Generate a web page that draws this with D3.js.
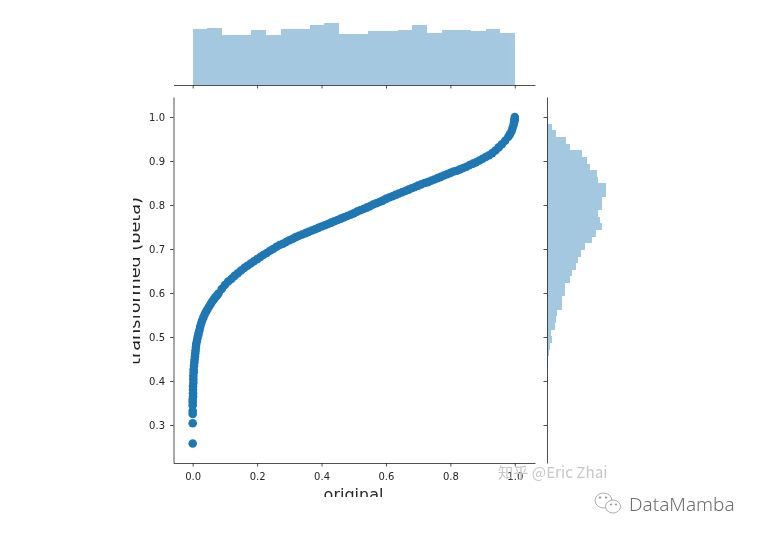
<!DOCTYPE html>
<html><head><meta charset="utf-8">
<script src="https://cdn.jsdelivr.net/npm/d3@7"></script>
<style>
html,body{margin:0;padding:0;background:#fff;}
svg{display:block;filter:blur(0.45px);}
text{font-family:"DejaVu Sans",sans-serif;}
</style></head><body>
<svg id="c" width="761" height="535"></svg>
<script>
const original=[0,0,0,0,0,0,0,0.001,0.001,0.001,0.001,0.002,0.002,0.002,0.003,0.003,0.004,0.005,0.006,0.007,0.008,0.009,0.010,0.011,0.013,0.015,0.017,0.019,0.021,0.023,0.026,0.029,0.033,0.037,0.041,0.045,0.050,0.055,0.060,0.065,0.070,0.075,
0.08,0.09,0.10,0.11,0.12,0.13,0.14,0.15,0.16,0.17,0.18,0.19,0.20,0.21,0.22,0.23,0.24,0.25,0.26,0.27,0.28,0.29,0.30,0.31,0.32,0.33,0.34,0.35,0.36,0.37,0.38,0.39,0.40,0.41,0.42,0.43,0.44,0.45,0.46,0.47,0.48,0.49,0.50,0.51,0.52,0.53,0.54,0.55,0.56,0.57,0.58,0.59,0.60,0.61,0.62,0.63,0.64,0.65,0.66,0.67,0.68,0.69,0.70,0.71,0.72,0.73,0.74,0.75,0.76,0.77,0.78,0.79,0.80,0.81,0.82,0.83,0.84,0.85,0.86,0.87,0.88,0.89,0.90,0.91,0.92,0.93,0.94,0.95,0.96,0.97,0.98,0.985,0.99,0.993,0.996,0.998,0.999,1.0,1.0];
const transformed=[0.258,0.304,0.325,0.332,0.345,0.352,0.358,0.365,0.372,0.380,0.388,0.396,0.404,0.412,0.420,0.426,0.434,0.442,0.449,0.456,0.463,0.470,0.477,0.484,0.491,0.498,0.504,0.510,0.516,0.523,0.530,0.537,0.544,0.551,0.557,0.562,0.568,0.574,0.580,0.585,0.590,0.594,
0.599,0.609,0.618,0.626,0.632,0.639,0.645,0.651,0.657,0.662,0.667,0.672,0.677,0.682,0.687,0.691,0.696,0.700,0.705,0.709,0.712,0.716,0.720,0.723,0.727,0.730,0.733,0.736,0.739,0.742,0.745,0.748,0.751,0.754,0.757,0.760,0.763,0.766,0.769,0.772,0.775,0.778,0.781,0.785,0.788,0.791,0.794,0.797,0.801,0.804,0.807,0.810,0.814,0.817,0.820,0.823,0.826,0.829,0.832,0.835,0.838,0.841,0.844,0.847,0.850,0.852,0.855,0.858,0.861,0.864,0.867,0.870,0.873,0.876,0.878,0.881,0.884,0.887,0.891,0.894,0.897,0.901,0.905,0.909,0.913,0.918,0.924,0.931,0.938,0.946,0.955,0.961,0.968,0.975,0.982,0.988,0.993,0.996,1.0];
const topCounts=[47,48,42,42,46,42,47,47,50,52,43,43,45,45,46,50,44,46,46,45,47,44];
const topRange=[0,1];
const rightCounts=[1,5,9,18,22,34,38,41,48,49,57,57,53,53,49,51,53,47,43,37,33,30,28,24,22,17,17,14,14,10,9,8,4,5,3,2,1,1,0,1,0,0,0,0,0,0,0,0,0];
const rightRange=[1.0,0.26];
const xTicks=[0,0.2,0.4,0.6,0.8,1.0];
const yTicks=[0.3,0.4,0.5,0.6,0.7,0.8,0.9,1.0];
const xLabel="original", yLabel="transformed (beta)";
const watermarkA="知乎 @Eric Zhai", watermarkB="DataMamba";

const C="#1f77b4", INK="#262626";
const svg=d3.select("#c");
const L=173.5,R=535,T=97,B=463,topBase=85,rightBase=547;
const x=d3.scaleLinear().domain([-0.0596,1.0627]).range([L,R]);
const y=d3.scaleLinear().domain([0.2136,1.0455]).range([B,T]);
const topY=d3.scaleLinear().domain([0,54.6]).range([topBase,20]);
const rightX=d3.scaleLinear().domain([0,62.5]).range([rightBase,612]);

// top marginal: opaque bars in a translucent group, so neighbouring bars show no seam
const tw=(topRange[1]-topRange[0])/topCounts.length;
svg.append("g").attr("opacity",0.4).selectAll("rect").data(topCounts).join("rect")
  .attr("shape-rendering","crispEdges")
  .attr("x",(d,i)=>x(topRange[0]+i*tw)).attr("width",x(tw)-x(0))
  .attr("y",d=>topY(d)).attr("height",d=>topBase-topY(d))
  .attr("fill",C);
// right marginal
const rh=(rightRange[0]-rightRange[1])/rightCounts.length;
svg.append("g").attr("opacity",0.4).selectAll("rect").data(rightCounts).join("rect")
  .attr("shape-rendering","crispEdges")
  .attr("y",(d,i)=>y(rightRange[0]-i*rh)).attr("height",y(0)-y(rh))
  .attr("x",rightBase).attr("width",d=>rightX(d)-rightBase)
  .attr("fill",C);

function style(g){
  g.selectAll("path,line").attr("stroke",INK).attr("stroke-opacity",0.8);
  g.selectAll("text").attr("fill",INK).attr("font-size",10).style("font-family",'"DejaVu Sans",sans-serif');
}
// top marginal axis
const xTop=svg.append("g").attr("transform",`translate(0,${topBase})`)
  .call(d3.axisBottom(x).tickValues(xTicks).tickSize(3.5).tickSizeOuter(0).tickFormat(""));
style(xTop);
// right marginal axis
const yRight=svg.append("g").attr("transform",`translate(${rightBase},0)`)
  .call(d3.axisLeft(y).tickValues(yTicks).tickSize(3.5).tickSizeOuter(0).tickFormat(""));
style(yRight);

// main scatter
svg.append("g").selectAll("circle").data(original).join("circle")
  .attr("cx",d=>x(d)).attr("cy",(d,i)=>y(transformed[i])).attr("r",4.3).attr("fill",C);

// main axes
const xAx=svg.append("g").attr("transform",`translate(0,${B})`)
  .call(d3.axisBottom(x).tickValues(xTicks).tickSize(3.5).tickPadding(6).tickSizeOuter(0).tickFormat(d3.format(".1f")));
style(xAx);
const yAx=svg.append("g").attr("transform",`translate(${L},0)`)
  .call(d3.axisLeft(y).tickValues(yTicks).tickSize(3.5).tickPadding(5).tickSizeOuter(0).tickFormat(d3.format(".1f")));
style(yAx);

// clipped axis titles (the reference cuts them off)
const defs=svg.append("defs");
defs.append("clipPath").attr("id","cx").append("rect").attr("x",300).attr("y",470).attr("width",120).attr("height",27);
defs.append("clipPath").attr("id","cy").append("rect").attr("x",133).attr("y",180).attr("width",30).attr("height",200);
svg.append("g").attr("clip-path","url(#cx)").append("text")
  .attr("x",353.5).attr("y",500).attr("text-anchor","middle").attr("font-size",16).attr("fill",INK).text(xLabel);
svg.append("g").attr("clip-path","url(#cy)").append("text")
  .attr("transform","translate(140,281) rotate(-90)").attr("text-anchor","middle")
  .attr("font-size",16).attr("fill",INK).attr("textLength",168).attr("lengthAdjust","spacingAndGlyphs").text(yLabel);

// watermarks
svg.append("text").attr("x",498).attr("y",478).attr("font-size",15.2).attr("fill","#c8c8c8")
  .style("font-family",'"Noto Sans CJK SC","Noto Sans",sans-serif').text(watermarkA);
svg.append("text").attr("x",629).attr("y",511).attr("font-size",19).attr("fill","#6e6e6e")
  .style("font-family",'"Noto Sans","Open Sans",sans-serif').style("font-weight",300).text(watermarkB);
const ic=svg.append("g").attr("fill","#fff").attr("stroke","#9a9a9a").attr("stroke-width",0.8);
ic.append("ellipse").attr("cx",603.5).attr("cy",500.5).attr("rx",8.5).attr("ry",7.5);
ic.append("ellipse").attr("cx",613).attr("cy",506.5).attr("rx",7.5).attr("ry",6.5);
ic.append("circle").attr("cx",600).attr("cy",497.5).attr("r",0.8).attr("fill","#777");
ic.append("circle").attr("cx",606).attr("cy",497.5).attr("r",0.8).attr("fill","#777");
ic.append("circle").attr("cx",611).attr("cy",504.5).attr("r",0.7).attr("fill","#777");
ic.append("circle").attr("cx",616).attr("cy",504.5).attr("r",0.7).attr("fill","#777");
</script>
</body></html>
